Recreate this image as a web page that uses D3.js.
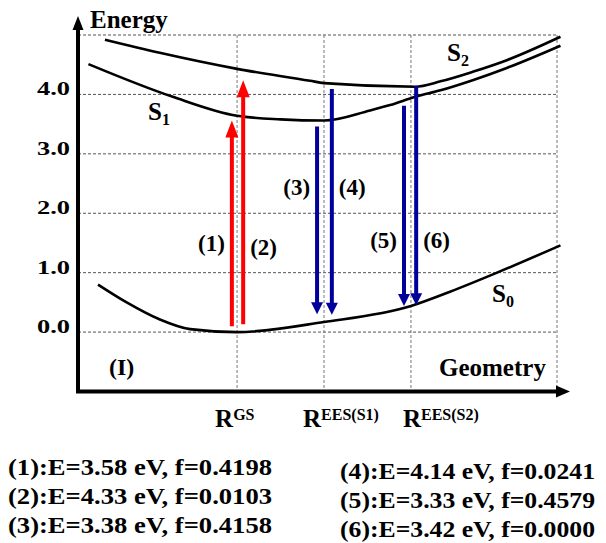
<!DOCTYPE html>
<html>
<head>
<meta charset="utf-8">
<script src="https://cdn.jsdelivr.net/npm/d3@7"></script>
<style>
  body { margin: 0; background: #fff; }
  svg text { font-family: "Liberation Serif", "Times New Roman", serif; font-weight: bold; fill: #000; }
</style>
</head>
<body>
<svg width="606" height="543"></svg>
<script>
// energy ticks on the left axis
var energyTicks = [0, 1, 2, 3, 4];
// geometry points (R^GS, R^EES(S1), R^EES(S2)) at geometry 0, 1, 2
var geomPos = [0, 1, 2];
var geomSup = ["GS", "EES(S1)", "EES(S2)"];

// potential energy curves [geometry, energy]
var s0 = [[-1.6, 0.8], [-1.27, 0.5], [-0.9, 0.22], [-0.54, 0.05], [0, 0], [1, 0.17], [2, 0.44], [2.45, 0.68], [2.99, 1.0], [3.72, 1.46]];
var s1 = [[-1.71, 4.51], [-0.74, 3.96], [0, 3.64], [0.5, 3.58], [1, 3.56], [1.53, 3.73], [1.76, 3.82], [2.05, 3.96], [2.34, 4.07], [2.71, 4.24], [3.11, 4.45], [3.72, 4.82]];
var s2 = [[-1.52, 4.92], [-0.89, 4.70], [0, 4.43], [0.84, 4.23], [1, 4.19], [2.05, 4.13], [2.34, 4.22], [2.71, 4.38], [3.11, 4.58], [3.72, 4.97]];

// transitions: geometry, start energy, end energy
var arrowX    = [-0.06, 0.07, 0.92, 1.09, 1.92, 2.06];
var arrowFrom = [0.10, 0.13, 3.46, 4.09, 3.81, 4.14];
var arrowTo   = [3.56, 4.24, 0.30, 0.29, 0.44, 0.45];

// listed results
var transE = [3.58, 4.33, 3.38, 4.14, 3.33, 3.42];
var transF = [0.4198, 0.0103, 0.4158, 0.0241, 0.4579, 0.0000];

var svg = d3.select("svg");

var x = d3.scaleLinear().domain([-1.83, 3.68]).range([78, 557]);
var y = d3.scaleLinear().domain([-1, 5]).range([391.5, 35]);

// grid
var g = svg.append("g");
g.selectAll("line.h").data(energyTicks.concat([5])).enter().append("line")
  .attr("x1", x(-1.83)).attr("x2", x(3.68))
  .attr("y1", function(d){ return y(d); }).attr("y2", function(d){ return y(d); })
  .style("stroke", "#555").style("stroke-width", 1).style("stroke-dasharray", "3,2");
g.selectAll("line.v").data(geomPos.concat([3.68])).enter().append("line")
  .attr("x1", function(d){ return x(d); }).attr("x2", function(d){ return x(d); })
  .attr("y1", y(5)).attr("y2", y(-1))
  .style("stroke", "#777").style("stroke-width", 1).style("stroke-dasharray", "3,2");

// axes with arrowheads
svg.append("line").attr("x1", x(-1.83)).attr("y1", y(-1)).attr("x2", x(-1.83)).attr("y2", 26)
  .style("stroke", "#000").style("stroke-width", 4);
svg.append("path").attr("d", "M" + (x(-1.83) - 5.5) + ",30L" + x(-1.83) + ",16L" + (x(-1.83) + 5.5) + ",30Z").style("fill", "#000");
svg.append("line").attr("x1", x(-1.83) - 2).attr("y1", y(-1)).attr("x2", 558).attr("y2", y(-1))
  .style("stroke", "#000").style("stroke-width", 4);
svg.append("path").attr("d", "M556," + (y(-1) - 6) + "L570," + y(-1) + "L556," + (y(-1) + 6) + "Z").style("fill", "#000");

// tick labels
svg.selectAll("text.tick").data(energyTicks).enter().append("text")
  .attr("x", 70).attr("y", function(d){ return y(d) + 1; })
  .attr("text-anchor", "end")
  .attr("textLength", 33).attr("lengthAdjust", "spacingAndGlyphs")
  .style("font-size", "19px")
  .text(function(d){ return d.toFixed(1); });

// curves
var line = d3.line().x(function(d){ return x(d[0]); }).y(function(d){ return y(d[1]); }).curve(d3.curveMonotoneX);
[s0, s1, s2].forEach(function(c){
  svg.append("path").attr("d", line(c))
    .style("fill", "none").style("stroke", "#000").style("stroke-width", 2.6);
});

// arrows
arrowX.forEach(function(ax, i){
  var up = arrowTo[i] > arrowFrom[i];
  var col = up ? "#ff0000" : "#00009a";
  var hl = up ? 17 : 12, hw = up ? 6.5 : 6;
  var px = x(ax), y0 = y(arrowFrom[i]), y1 = y(arrowTo[i]);
  var dir = up ? 1 : -1;
  svg.append("line").attr("x1", px).attr("x2", px).attr("y1", y0).attr("y2", y1 + dir * hl * 0.8)
    .style("stroke", col).style("stroke-width", 4);
  svg.append("path")
    .attr("d", "M" + (px - hw) + "," + (y1 + dir * hl) + "L" + px + "," + y1 + "L" + (px + hw) + "," + (y1 + dir * hl) + "Z")
    .style("fill", col);
});

// arrow labels: side (-1 left, +1 right), vertical centre in energy units
var labSide = [-1, 1, -1, 1, -1, 1];
var labE = [1.5, 1.44, 2.45, 2.45, 1.55, 1.55];
arrowX.forEach(function(ax, i){
  svg.append("text")
    .attr("x", x(ax) + labSide[i] * 7).attr("y", y(labE[i]))
    .attr("dy", "0.35em")
    .attr("text-anchor", labSide[i] < 0 ? "end" : "start")
    .style("font-size", "23px")
    .text("(" + (i + 1) + ")");
});

// state labels
function stateLabel(px, py, sub) {
  var t = svg.append("text").attr("x", px).attr("y", py).style("font-size", "25px");
  t.append("tspan").text("S");
  t.append("tspan").attr("dy", 5).style("font-size", "16px").text(sub);
}
stateLabel(148, 120, "1");
stateLabel(447, 61, "2");
stateLabel(492, 302, "0");

svg.append("text").attr("x", 90).attr("y", 28).style("font-size", "25px").text("Energy");
svg.append("text").attr("x", 439).attr("y", 376).style("font-size", "25px").text("Geometry");
svg.append("text").attr("x", 109).attr("y", 375).style("font-size", "24px").text("(I)");

// geometry labels
var geomOff = [-22, -21, -8];
geomPos.forEach(function(p, i){
  var t = svg.append("text").attr("x", x(p) + geomOff[i]).attr("y", 427).style("font-size", "25px");
  t.append("tspan").text("R");
  t.append("tspan").attr("dy", -7).style("font-size", "16px").text(geomSup[i]);
});

// results list
transE.forEach(function(e, i){
  var right = i >= 3;
  var row = i % 3;
  svg.append("text")
    .attr("x", right ? 340 : 8)
    .attr("y", (right ? 479 : 475) + row * 28.8)
    .attr("textLength", right ? 255 : 264).attr("lengthAdjust", "spacingAndGlyphs")
    .style("font-size", "23px")
    .text("(" + (i + 1) + "):E=" + e.toFixed(2) + " eV, f=" + transF[i].toFixed(4));
});
</script>
</body>
</html>
